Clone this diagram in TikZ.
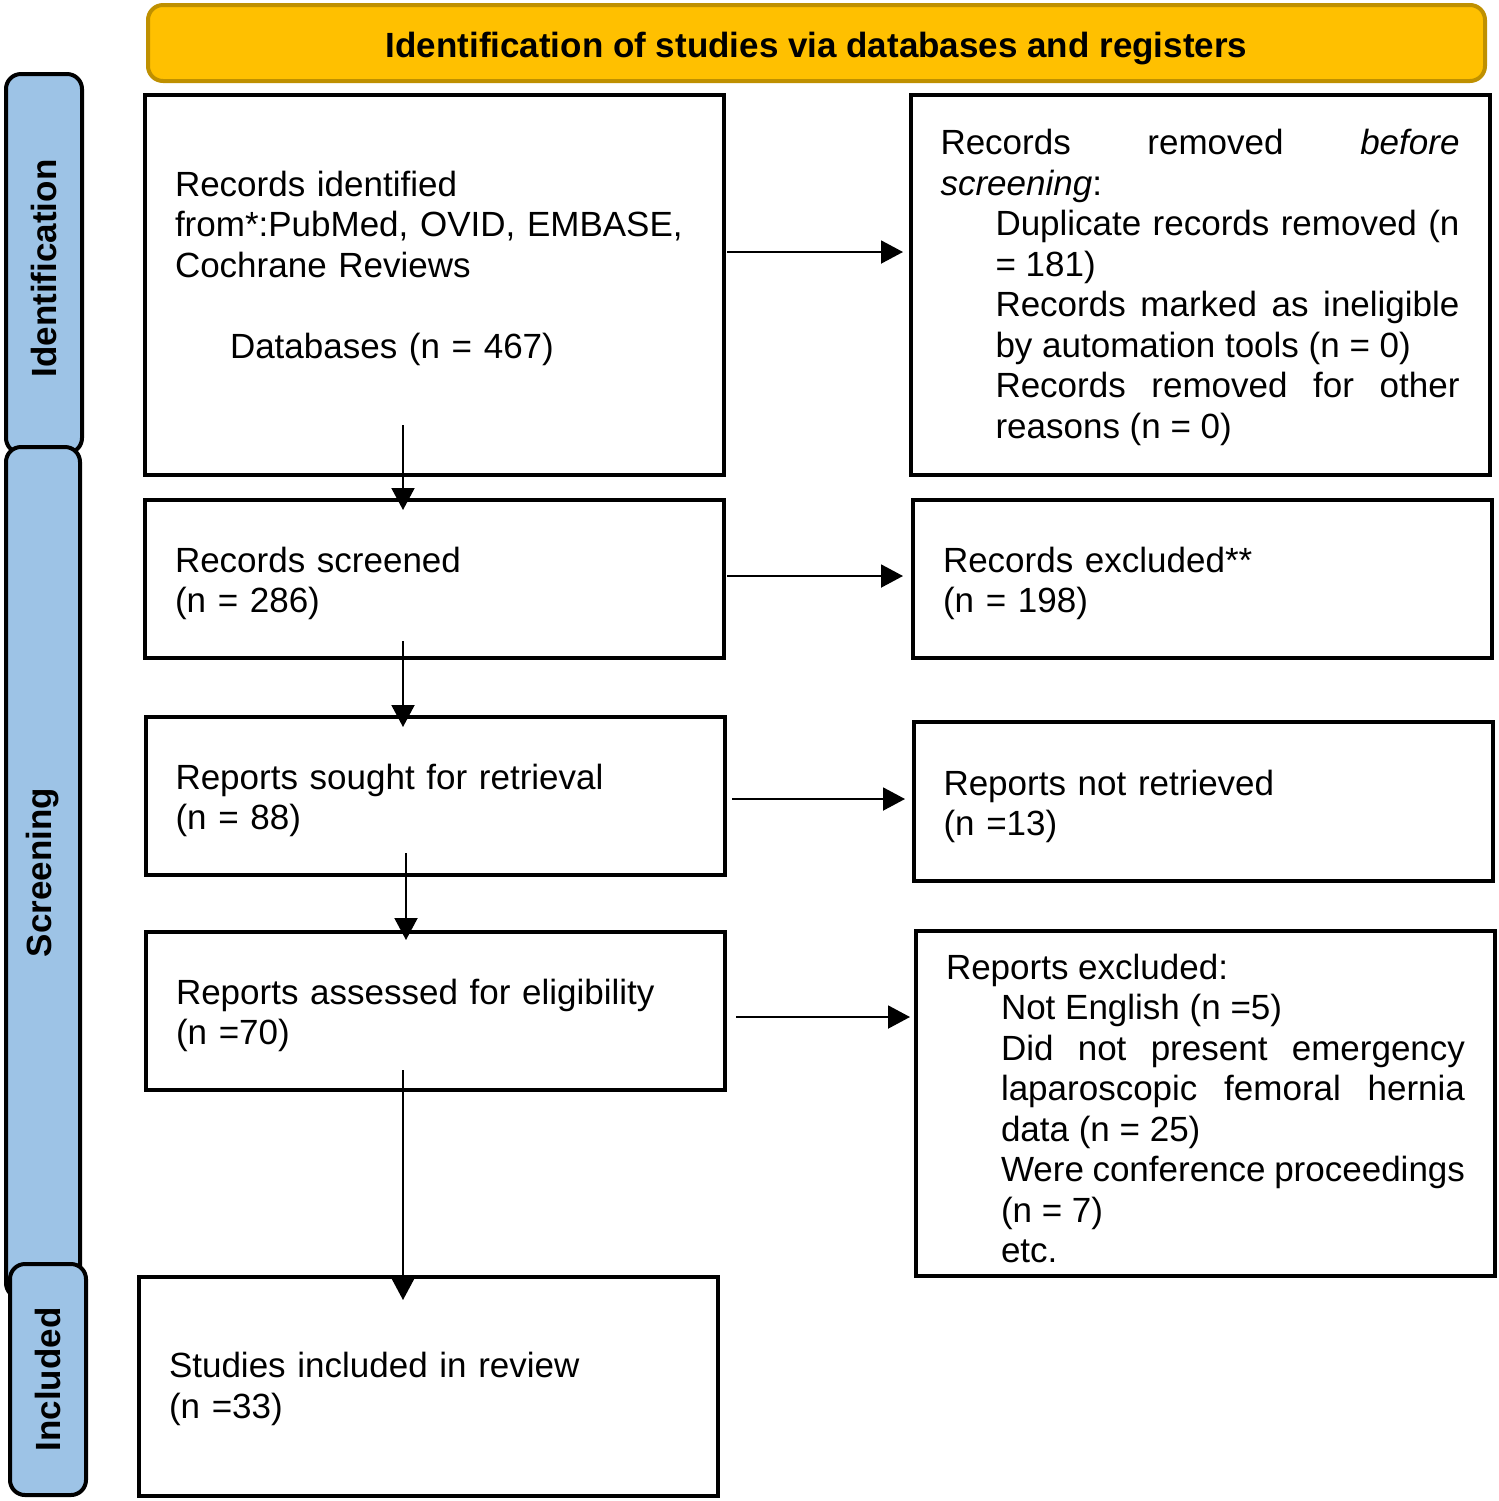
\documentclass[tikz,border=0pt]{standalone}
\usepackage{fontspec}
\setmainfont{Liberation Sans}
\usetikzlibrary{arrows.meta}
\definecolor{hdrfill}{HTML}{FFC000}
\definecolor{hdrline}{HTML}{BF9000}
\definecolor{tabfill}{HTML}{9DC3E6}
\newcommand{\bodyfnt}{\fontsize{17.5pt}{20.25pt}\selectfont}
\newcommand{\tst}[1]{\rule{0pt}{#1pt}}
\newcommand{\bst}{\rule[-3.5pt]{0pt}{3.5pt}}
\begin{document}
\begin{tikzpicture}[x=0.5pt,y=-0.5pt,
  box/.style={draw, line width=2pt, inner xsep=15pt, inner ysep=0pt,
    text width=259.5pt, minimum height=79pt, font=\bodyfnt, align=left},
  jbox/.style={box, align=justify},
  tabbox/.style={draw, line width=2pt, fill=tabfill, rounded corners=7.5pt,
    rotate=90, font=\bodyfnt\bfseries, inner sep=0pt},
  arr/.style={-{Triangle[length=11pt,width=11.5pt]}, line width=1pt}]
\useasboundingbox (0,0) rectangle (1499,1501);

% header
\node[draw=hdrline, fill=hdrfill, line width=2pt, rounded corners=7.5pt,
  minimum width=668.5pt, minimum height=38pt, font=\bodyfnt\bfseries,
  text height=14pt, text depth=0pt]
  (hdr) at (816.5,43) {Identification of studies via databases and registers};

% side tabs
\node[tabbox, minimum width=189.5pt, minimum height=38pt] (tid) at (44,263.5)
  {Identification\hspace*{5pt}};
\node[tabbox, minimum width=425.5pt, minimum height=37pt] (tsc) at (43,872.5) {Screening};
\node[tabbox, minimum width=115.5pt, minimum height=38pt] (tin) at (48,1379.5) {Included};

% left column
\node[box, minimum height=190pt] (b1) at (434.5,285) {\tst{15.75}Records identified\\
from*:PubMed, OVID, EMBASE,\\
Cochrane Reviews\\
\mbox{}\\
\hspace*{27.5pt}Databases (n = 467)\\
\mbox{}\bst};
\node[box] (b2) at (434.5,579) {\tst{17}Records screened\\(n = 286)\bst};
\node[box] (b3) at (435,796) {\tst{17}Reports sought for retrieval\\(n = 88)\bst};
\node[box] (b4) at (435.5,1011) {\tst{17}Reports assessed for eligibility\\(n =70)\bst};
\node[box, minimum height=109.5pt] (b5) at (428.5,1386.5) {\tst{15}Studies included in review\\(n =33)\bst};

% right column
\node[jbox, minimum height=190pt] (r1) at (1200,285) {\tst{15}Records removed \textit{before}\linebreak
\textit{screening}:\par
{\leftskip=27.5pt Duplicate records removed (n\linebreak
= 181)\par
Records marked as ineligible\linebreak
by automation tools (n = 0)\par
Records removed for other\linebreak
reasons (n = 0)\bst\par}};
\node[box] (r2) at (1202.5,579) {\tst{17}Records excluded**\\(n = 198)\bst};
\node[box, minimum height=79.5pt] (r3) at (1203,801.5) {\tst{17.5}Reports not retrieved\\(n =13)\bst};
\node[jbox, minimum height=172.5pt] (r4) at (1205.5,1103.5) {\tst{21}Reports excluded:\par
{\leftskip=27.5pt Not English (n =5)\par
Did not present emergency\linebreak
laparoscopic femoral hernia\linebreak
data (n = 25)\par
Were conference proceedings\linebreak
(n = 7)\par
etc.\bst\par}};

% connector end points
\coordinate (v1s) at (403,425);  \coordinate (v1e) at (403,510);
\coordinate (v2s) at (403,641);  \coordinate (v2e) at (403,727);
\coordinate (v3s) at (406,853);  \coordinate (v3e) at (406,940);
\coordinate (v4s) at (403,1070); \coordinate (v4e) at (403,1300);
\coordinate (h1s) at (727,252);  \coordinate (h1e) at (903,252);
\coordinate (h2s) at (727,576);  \coordinate (h2e) at (903,576);
\coordinate (h3s) at (732,799);  \coordinate (h3e) at (905,799);
\coordinate (h4s) at (736,1017); \coordinate (h4e) at (910,1017);

\draw[arr] (v1s) -- (v1e);
\draw[arr] (v2s) -- (v2e);
\draw[arr] (v3s) -- (v3e);
\draw[arr] (v4s) -- (v4e);
\draw[arr] (h1s) -- (h1e);
\draw[arr] (h2s) -- (h2e);
\draw[arr] (h3s) -- (h3e);
\draw[arr] (h4s) -- (h4e);
\end{tikzpicture}
\end{document}
